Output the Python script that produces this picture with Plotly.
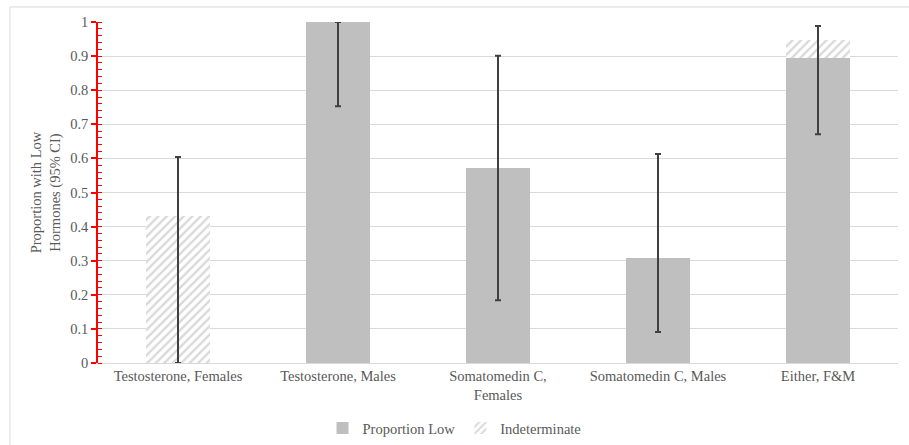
import plotly.graph_objects as go

categories = ["Testosterone, Females", "Testosterone, Males", "Somatomedin C,<br>Females",
              "Somatomedin C, Males", "Either, F&M"]
proportion_low = [0.0, 1.0, 0.571, 0.308, 0.894]
indeterminate = [0.43, 0.0, 0.0, 0.0, 0.053]
ci_low = [0.0, 0.753, 0.184, 0.091, 0.671]
ci_high = [0.604, 1.0, 0.901, 0.613, 0.988]
y_ticks = [0, 0.1, 0.2, 0.3, 0.4, 0.5, 0.6, 0.7, 0.8, 0.9, 1]
y_tick_labels = ["0", "0.1", "0.2", "0.3", "0.4", "0.5", "0.6", "0.7", "0.8", "0.9", "1"]

FONT = "Liberation Serif"
TXT = "#595959"
FS = 14.5

fig = go.Figure()
fig.add_trace(go.Bar(
    x=categories, y=proportion_low, name="Proportion Low",
    marker=dict(color="#bfbfbf", line=dict(width=0)),
))
fig.add_trace(go.Bar(
    x=categories, y=indeterminate, name="Indeterminate",
    marker=dict(color="white", line=dict(width=0),
                pattern=dict(shape="/", fgcolor="#b3b3b3", bgcolor="white",
                             size=6, solidity=0.4)),
))
fig.add_trace(go.Scatter(
    x=categories, y=ci_high, mode="markers", showlegend=False, hoverinfo="skip",
    marker=dict(size=0.1, color="rgba(0,0,0,0)"),
    error_y=dict(type="data", symmetric=False,
                 array=[0] * len(ci_high),
                 arrayminus=[h - l for h, l in zip(ci_high, ci_low)],
                 color="#404040", thickness=2, width=3),
))

fig.update_layout(
    barmode="stack",
    bargap=0.6,
    width=909, height=445,
    margin=dict(l=98, r=11, t=22, b=82, autoexpand=False),
    paper_bgcolor="white", plot_bgcolor="white",
    font=dict(family=FONT, size=FS, color=TXT),
    legend=dict(orientation="h", xref="container", yref="container",
                x=0.5, xanchor="center", y=0.038, yanchor="middle",
                font=dict(family=FONT, size=FS, color=TXT),
                itemwidth=30, traceorder="normal"),
    shapes=[dict(type="rect", xref="paper", yref="paper",
                 x0=-0.11, x1=1.02, y0=-0.26, y1=1.044,
                 line=dict(color="#d9d9d9", width=1), layer="below")],
)
fig.update_xaxes(
    showline=True, linecolor="#d9d9d9", linewidth=1, ticks="", automargin=False,
    tickfont=dict(family=FONT, size=FS, color=TXT), showgrid=False,
)
fig.update_yaxes(
    range=[0, 1], tickvals=y_ticks, ticktext=y_tick_labels, automargin=False,
    showline=True, linecolor="#ff0000", linewidth=1.5,
    ticks="outside", ticklen=5, tickcolor="#ff0000", tickwidth=1.5,
    minor=dict(dtick=0.02, ticks="inside", ticklen=4, tickcolor="#ff0000", tickwidth=1, showgrid=False),
    showgrid=True, gridcolor="#d9d9d9", gridwidth=1,
    zeroline=False,
    tickfont=dict(family=FONT, size=FS, color=TXT),
    title=dict(text="Proportion with Low<br>Hormones (95% CI)", standoff=6,
               font=dict(family=FONT, size=FS, color=TXT)),
)

fig.write_html("out.html", config={"displayModeBar": False},
               post_script="document.body.style.margin='0';document.body.style.overflow='hidden';")
